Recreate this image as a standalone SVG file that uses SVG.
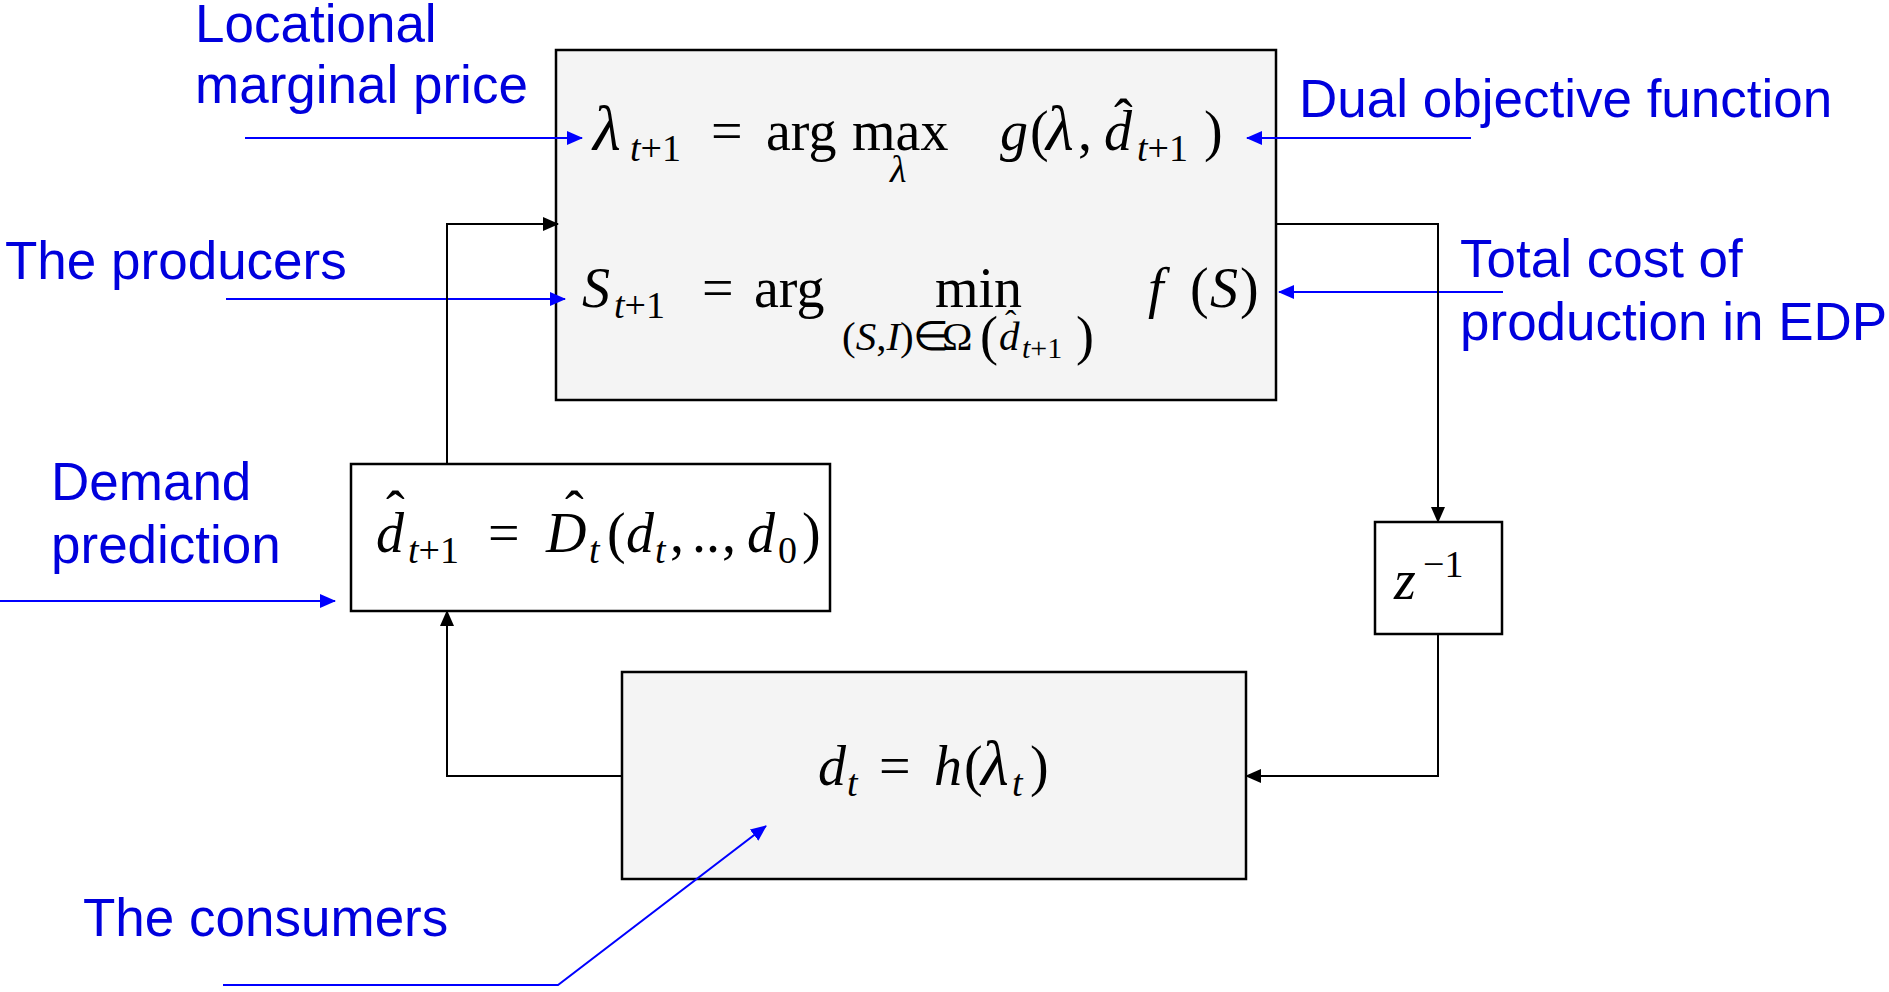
<svg xmlns="http://www.w3.org/2000/svg" width="1889" height="992" viewBox="0 0 1889 992">
<style>
.lbl{font-family:"Liberation Sans",Arial,sans-serif;font-size:53px;fill:#0000dd}
.m{font-family:"Liberation Serif","Times New Roman",serif;font-size:56px;fill:#000}
.i{font-style:italic}
.s{font-size:38px}
.ss{font-size:30px}
.L{font-size:64px}
.P{font-size:54px}
.box{stroke:#000;stroke-width:2.5}
.blk{fill:none;stroke:#000;stroke-width:2}
.blu{fill:none;stroke:#0000ff;stroke-width:2}
</style>
<defs>
<marker id="ab" markerUnits="userSpaceOnUse" markerWidth="16" markerHeight="14" refX="15" refY="7" orient="auto"><path d="M0,0 L16,7 L0,14 Z" fill="#0000ff"/></marker>
<marker id="ak" markerUnits="userSpaceOnUse" markerWidth="16" markerHeight="14" refX="15" refY="7" orient="auto"><path d="M0,0 L16,7 L0,14 Z" fill="#000"/></marker>
</defs>
<rect width="1889" height="992" fill="#fff"/>

<g id="optimizer">
<rect class="box" x="556" y="50" width="720" height="350" fill="#f4f4f4"/>
<text class="m"><tspan x="593" y="150" class="i L">λ</tspan><tspan x="630" y="161" class="i s">t</tspan><tspan class="s">+1</tspan><tspan x="711" y="150">=</tspan><tspan x="766">arg</tspan><tspan x="852">max</tspan><tspan x="1000" class="i">g</tspan><tspan x="1030">(</tspan><tspan x="1046" class="i L">λ</tspan><tspan x="1078">,</tspan><tspan x="1104" class="i">d</tspan><tspan x="1137" y="161" class="i s">t</tspan><tspan class="s">+1</tspan><tspan x="1204" y="150">)</tspan></text>
<text class="m i s" x="890" y="182">λ</text>
<text class="m" x="1114" y="138">ˆ</text>
<text class="m"><tspan x="582" y="307" class="i">S</tspan><tspan x="614" y="318" class="i s">t</tspan><tspan class="s">+1</tspan><tspan x="702" y="307">=</tspan><tspan x="754">arg</tspan><tspan x="935">min</tspan><tspan x="1148" class="i">f</tspan><tspan x="1190">(</tspan><tspan x="1210" class="i">S</tspan><tspan x="1240">)</tspan></text>
<text class="m" style="font-size:41px" y="350"><tspan x="842">(</tspan><tspan class="i">S</tspan><tspan>,</tspan><tspan class="i">I</tspan><tspan>)</tspan><tspan x="913">∈</tspan><tspan x="942">Ω</tspan><tspan x="980" y="354" class="P">(</tspan><tspan x="999" y="350" class="i">d</tspan><tspan x="1022" y="358" class="i ss">t</tspan><tspan class="ss">+1</tspan><tspan x="1076" y="354" class="P">)</tspan></text>
<text class="m" style="font-size:34px" x="1005" y="334">ˆ</text>
</g>

<g id="predictor">
<rect class="box" x="351" y="464" width="479" height="147" fill="#fff"/>
<text class="m"><tspan x="376" y="552" class="i">d</tspan><tspan x="408" y="563" class="i s">t</tspan><tspan class="s">+1</tspan><tspan x="488" y="552">=</tspan><tspan x="546" class="i">D</tspan><tspan x="589" y="563" class="i s">t</tspan><tspan x="607" y="552">(</tspan><tspan x="626" class="i">d</tspan><tspan x="655" y="563" class="i s">t</tspan><tspan x="670" y="552">,</tspan><tspan x="692">..</tspan><tspan x="722">,</tspan><tspan x="747" class="i">d</tspan><tspan x="778" y="563" class="s">0</tspan><tspan x="802" y="552">)</tspan></text>
<text class="m" x="386" y="530">ˆ</text>
<text class="m" x="565" y="530">ˆ</text>
</g>

<g id="market">
<rect class="box" x="622" y="672" width="624" height="207" fill="#f4f4f4"/>
<text class="m"><tspan x="818" y="785" class="i">d</tspan><tspan x="847" y="796" class="i s">t</tspan><tspan x="879" y="785">=</tspan><tspan x="934" class="i">h</tspan><tspan x="964">(</tspan><tspan x="981" class="i L">λ</tspan><tspan x="1012" y="796" class="i s">t</tspan><tspan x="1030" y="785">)</tspan></text>
</g>

<g id="delay">
<rect class="box" x="1375" y="522" width="127" height="112" fill="#fff"/>
<text class="m"><tspan x="1394" y="599" class="i">z</tspan><tspan x="1423" y="577" class="s">−1</tspan></text>
</g>

<g id="labels">
<text class="lbl" x="195" y="42">Locational</text>
<text class="lbl" x="195" y="103">marginal price</text>
<text class="lbl" x="5" y="279">The producers</text>
<text class="lbl" x="51" y="500">Demand</text>
<text class="lbl" x="51" y="563">prediction</text>
<text class="lbl" x="83" y="936">The consumers</text>
<text class="lbl" x="1299" y="117">Dual objective function</text>
<text class="lbl" x="1460" y="277">Total cost of</text>
<text class="lbl" x="1460" y="340">production in EDP</text>
</g>

<g id="connectors">
<line class="blu" x1="245" y1="138" x2="582" y2="138" marker-end="url(#ab)"/>
<line class="blu" x1="226" y1="299" x2="565" y2="299" marker-end="url(#ab)"/>
<line class="blu" x1="1471" y1="138" x2="1247" y2="138" marker-end="url(#ab)"/>
<line class="blu" x1="1503" y1="292" x2="1279" y2="292" marker-end="url(#ab)"/>
<line class="blu" x1="0" y1="601" x2="335" y2="601" marker-end="url(#ab)"/>
<polyline class="blu" points="223,985 558,985 766,826" marker-end="url(#ab)"/>
<polyline class="blk" points="447,464 447,224 558,224" marker-end="url(#ak)"/>
<polyline class="blk" points="1276,224 1438,224 1438,522" marker-end="url(#ak)"/>
<polyline class="blk" points="1438,634 1438,776 1246,776" marker-end="url(#ak)"/>
<polyline class="blk" points="622,776 447,776 447,611" marker-end="url(#ak)"/>
</g>
</svg>
